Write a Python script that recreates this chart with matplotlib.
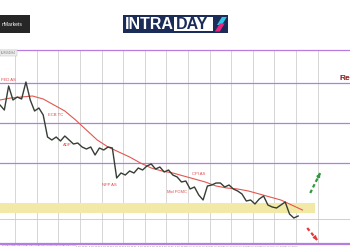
import numpy as np
import matplotlib.pyplot as plt
from matplotlib.patches import Rectangle, Polygon

# 4h closes, first bar at day -0.7
start_day = -0.7
bar_step = 0.2
closes = [
    1.0945, 1.09325, 1.09925, 1.09575, 1.0965, 1.096, 1.10025, 1.09575, 1.093, 1.09375,
    1.092, 1.0865, 1.08575, 1.0865, 1.0855, 1.08675, 1.08575, 1.08475, 1.085, 1.084,
    1.0835, 1.084, 1.082, 1.08375, 1.08325, 1.084, 1.08375, 1.07625, 1.0775, 1.077,
    1.078, 1.0775, 1.07875, 1.07825, 1.07925, 1.07975, 1.0785, 1.079, 1.07775, 1.07825,
    1.077, 1.0765, 1.07525, 1.0755, 1.0735, 1.074, 1.072, 1.07075, 1.07425, 1.0745,
    1.075, 1.075, 1.074, 1.0745, 1.0735, 1.073, 1.07225, 1.0705, 1.07075, 1.06975,
    1.071, 1.07175, 1.0695, 1.069, 1.06875, 1.0695, 1.07025, 1.06725, 1.06625, 1.06675,
]

# moving average, one value every half day
ma_step = 0.5
ma_values = [
    1.09575, 1.09625, 1.0965, 1.09675, 1.096, 1.0945, 1.093, 1.09075, 1.08825, 1.08575,
    1.084, 1.08275, 1.0815, 1.08, 1.07875, 1.078, 1.0775, 1.07675, 1.076, 1.07525,
    1.07425, 1.07375, 1.0735, 1.073, 1.07225, 1.0715, 1.07075, 1.0695, 1.06825,
]

levels = [1.10, 1.09, 1.08, 1.06]
zone = (1.0675, 1.0700)
zone_end = 13.9
spot_price = 1.066

event_names = ['FED AS', 'ECB TC', 'ADP', 'NFP AS', 'Mid FOMC', 'CPI AS']
event_days = [-0.65, 1.53, 2.22, 4.03, 7.04, 8.19]
event_prices = [1.10075, 1.092, 1.0845, 1.0745, 1.0727, 1.0772]

up_days = [13.66, 14.12]
up_prices = [1.0725, 1.0775]
down_days = [13.52, 13.98]
down_prices = [1.06375, 1.06075]

time_labels = [
    '26 Sep 2023', '27 Sep 04:00', '27 Sep 20:00', '28 Sep 12:00', '29 Sep 04:00',
    '29 Sep 20:00', '2 Oct 12:00', '3 Oct 04:00', '3 Oct 20:00', '4 Oct 12:00',
    '5 Oct 04:00', '5 Oct 20:00', '6 Oct 12:00', '9 Oct 04:00', '9 Oct 20:00',
    '10 Oct 12:00', '11 Oct 04:00', '11 Oct 20:00', '12 Oct 12:00', '13 Oct 04:00',
    '13 Oct 20:00', '16 Oct 12:00', '17 Oct 04:00', '17 Oct 20:00',
]

PURPLE = '#b77ce0'
EVENT_RED = '#e2474a'

fig = plt.figure(figsize=(3.5, 2.5), dpi=100)
ax = fig.add_axes([0, 0.024, 1, 0.776])

days = start_day + bar_step * np.arange(len(closes))
ma_days = start_day + ma_step * np.arange(len(ma_values))

ax.axhspan(zone[0], zone[1], xmin=0, xmax=(zone_end + 0.7) / 16.2,
           color='#f3e9a6', lw=0, zorder=1)
ax.axhline(spot_price, color='#c8c8c8', lw=0.6, zorder=1)
for lv in levels:
    ax.axhline(lv, color=PURPLE, lw=0.9, zorder=2)

ax.plot(ma_days, ma_values, color='#e2574f', lw=0.8, zorder=3)
ax.plot(days, closes, color='#353d35', lw=1.0, zorder=4)

for name, d, p in zip(event_names, event_days, event_prices):
    ax.text(d, p, name, color=EVENT_RED, fontsize=3, va='center', ha='left',
            family='Liberation Sans', zorder=5)

ax.text(15.03, 1.10125, 'Resistance', color='#8b1a1a', fontsize=6,
        fontweight='bold', va='center', ha='left', family='Liberation Sans')

# dashed scenario arrows
for xs, ys, col in [(up_days, up_prices, '#2f9a3c'), (down_days, down_prices, '#e23a3a')]:
    ax.plot(xs, ys, color=col, lw=1.6, ls=(0, (1.6, 1.2)), zorder=5)
    mid = (xs[0] + 0.75 * (xs[1] - xs[0]), ys[0] + 0.75 * (ys[1] - ys[0]))
    ax.annotate('', xy=(xs[1], ys[1]), xytext=mid,
                arrowprops=dict(arrowstyle='-|>', color=col, lw=1.0,
                                mutation_scale=5, shrinkA=0, shrinkB=0), zorder=6)

ax.set_xlim(-0.7, 15.5)
ax.set_ylim(1.05975, 1.10825)

ax.set_xticks(np.arange(0, 15))
ax.set_xticklabels([])
ax.set_xticks(-0.33 + 0.57 * np.arange(len(time_labels)), minor=True)
ax.set_xticklabels(time_labels, minor=True, fontsize=1.4, color='#777777')
ax.tick_params(axis='x', which='both', length=0, pad=1)
ax.set_yticks([])
ax.grid(axis='x', which='major', color='#d6d6d6', lw=0.7)
ax.set_axisbelow(True)
for side in ['left', 'right']:
    ax.spines[side].set_visible(False)
for side in ['top', 'bottom']:
    ax.spines[side].set_color(PURPLE)
    ax.spines[side].set_linewidth(0.9)

ax.text(0.003, 0.995, 'EURUSD,H4', transform=ax.transAxes, fontsize=1.8,
        color='#666666', va='top', ha='left',
        bbox=dict(boxstyle='square,pad=0.3', fc='#eeeeee', ec='#bbbbbb', lw=0.3))

# broker logo, top left (cropped in the screenshot)
fig.add_artist(Rectangle((0, 0.868), 0.086, 0.072, transform=fig.transFigure,
                         color='#262626', lw=0))
fig.text(0.004, 0.904, 'nMarkets', color='white', fontsize=3.6, va='center',
         family='Liberation Sans')

# INTRADAY logo
fig.add_artist(Rectangle((0.351, 0.868), 0.300, 0.072, transform=fig.transFigure,
                         color='#1c2c58', lw=0))
fig.add_artist(Rectangle((0.497, 0.876), 0.112, 0.054, transform=fig.transFigure,
                         color='white', lw=0))
fig.text(0.357, 0.903, 'INTRA', color='white', fontsize=11.5, fontweight='bold',
         va='center', ha='left', family='Liberation Sans')
fig.text(0.502, 0.903, 'DAY', color='#1c2c58', fontsize=11.5, fontweight='bold',
         va='center', ha='left', family='Liberation Sans')
fig.add_artist(Polygon([(0.620, 0.900), (0.634, 0.932), (0.648, 0.932), (0.634, 0.900)],
                       closed=True, transform=fig.transFigure, color='#2fc4e8', lw=0))
fig.add_artist(Polygon([(0.614, 0.874), (0.628, 0.906), (0.642, 0.906), (0.628, 0.874)],
                       closed=True, transform=fig.transFigure, color='#e8247f', lw=0))

fig.savefig('out.png', dpi=100)
